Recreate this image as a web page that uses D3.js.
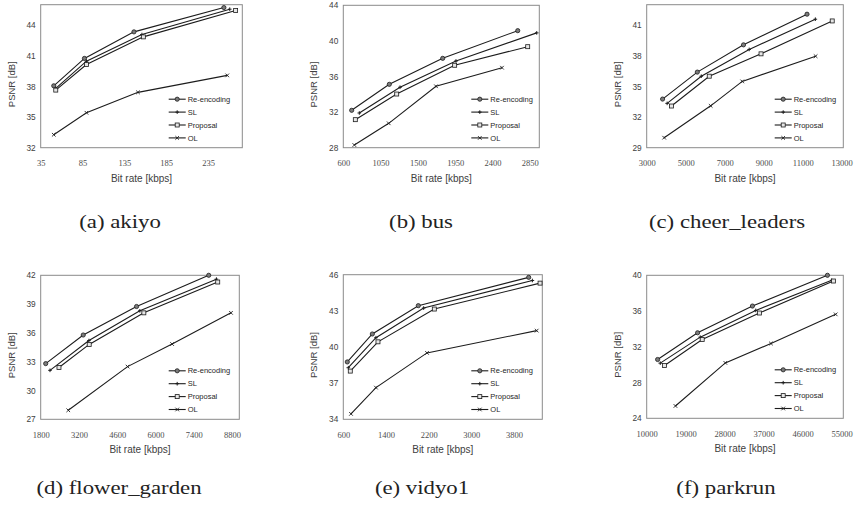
<!DOCTYPE html>
<html>
<head>
<meta charset="utf-8">
<script src="https://cdn.jsdelivr.net/npm/d3@7"></script>
<style>
  body { margin: 0; background: #fff; }
  svg { display: block; }
</style>
</head>
<body>
<svg id="fig" width="859" height="510"></svg>
<script>
// series shared by every panel
var seriesNames = ["Re-encoding", "SL", "Proposal", "OL"];
var markerTypes = ["circle", "plus", "square", "x"];

// (a) akiyo
var akiyoRate = [[50.6, 87.3, 146.5, 254], [53, 89.7, 156, 261], [53, 89.7, 157.7, 268], [50.6, 89.7, 151.3, 258]];
var akiyoPsnr = [[38.06, 40.74, 43.34, 45.72], [37.8, 40.47, 43.08, 45.56], [37.64, 40.15, 42.85, 45.43], [33.27, 35.42, 37.42, 39.08]];
var akiyoXTicks = [35, 85, 135, 185, 235];
var akiyoYTicks = [32, 35, 38, 41, 44];

// (b) bus
var busRate = [[701, 1155, 1799, 2704], [793, 1284, 1959, 2933], [745, 1244, 1943, 2824], [733, 1148, 1718, 2514]];
var busPsnr = [[32.2, 35.12, 38.04, 41.15], [31.9, 34.79, 37.74, 40.9], [31.15, 34.03, 37.26, 39.35], [28.3, 30.74, 34.9, 36.99]];
var busXTicks = [600, 1050, 1500, 1950, 2400, 2850];
var busYTicks = [28, 32, 36, 40, 44];

// (c) cheer_leaders
var cheerRate = [[3814, 5595, 7964, 11220], [4048, 5798, 8254, 11647], [4270, 6207, 8862, 12512], [3895, 6280, 7898, 11661]];
var cheerPsnr = [[33.76, 36.4, 39.07, 42.07], [33.34, 36.0, 38.62, 41.58], [33.08, 36.0, 38.19, 41.41], [29.98, 33.1, 35.49, 37.96]];
var cheerXTicks = [3000, 5000, 7000, 9000, 11000, 13000];
var cheerYTicks = [29, 32, 35, 38, 41];

// (d) flower_garden
var flowerRate = [[1983, 3357, 5309, 7951], [2140, 3565, 5429, 8233], [2469, 3576, 5576, 8280], [2809, 4980, 6610, 8766]];
var flowerPsnr = [[32.8, 35.78, 38.75, 42.0], [32.1, 35.2, 38.3, 41.6], [32.4, 34.8, 38.09, 41.3], [27.94, 32.49, 34.84, 38.09]];
var flowerXTicks = [1800, 3200, 4600, 6000, 7400, 8800];
var flowerYTicks = [27, 30, 33, 36, 39, 42];

// (e) vidyo1
var vidyoRate = [[675, 1144, 2006, 4075], [694, 1212, 2106, 4144], [731, 1250, 2306, 4288], [744, 1212, 2169, 4225]];
var vidyoPsnr = [[38.76, 41.08, 43.43, 45.78], [38.28, 40.77, 43.23, 45.52], [38.0, 40.43, 43.15, 45.3], [34.45, 36.63, 39.51, 41.36]];
var vidyoXTicks = [600, 1400, 2200, 3000, 3800];
var vidyoYTicks = [34, 37, 40, 43, 46];

// (f) parkrun
var parkRate = [[12517, 21746, 34406, 51720], [13127, 22356, 35169, 52711], [14119, 22813, 36008, 53093], [16636, 28152, 38677, 53627]];
var parkPsnr = [[30.58, 33.57, 36.56, 40.0], [30.17, 33.08, 36.07, 39.44], [29.91, 32.82, 35.78, 39.36], [25.38, 30.2, 32.37, 35.63]];
var parkXTicks = [10000, 19000, 28000, 37000, 46000, 55000];
var parkYTicks = [24, 28, 32, 36, 40];

// layout of each small chart (plot box in page pixels)
var panels = [
  {caption: "(a) akiyo", rate: akiyoRate, psnr: akiyoPsnr, xt: akiyoXTicks, yt: akiyoYTicks,
   xMax: 276, yDom: [32, 46], box: {l: 40.7, t: 4.7, r: 242.3, b: 147.7}, capX: 120, capY: 228},
  {caption: "(b) bus", rate: busRate, psnr: busPsnr, xt: busXTicks, yt: busYTicks,
   xMax: 2964, yDom: [28, 44], box: {l: 343.3, t: 5.3, r: 539.3, b: 147.7}, capX: 421, capY: 228},
  {caption: "(c) cheer_leaders", rate: cheerRate, psnr: cheerPsnr, xt: cheerXTicks, yt: cheerYTicks,
   xMax: 13080, yDom: [29, 43], box: {l: 646.7, t: 4.7, r: 843.3, b: 147.7}, capX: 727, capY: 228},
  {caption: "(d) flower_garden", rate: flowerRate, psnr: flowerPsnr, xt: flowerXTicks, yt: flowerYTicks,
   xMax: 9070, yDom: [27, 42], box: {l: 40.7, t: 275.3, r: 239.3, b: 419.3}, capX: 119, capY: 494},
  {caption: "(e) vidyo1", rate: vidyoRate, psnr: vidyoPsnr, xt: vidyoXTicks, yt: vidyoYTicks,
   xMax: 4330, yDom: [34, 46], box: {l: 343.3, t: 274.7, r: 542.3, b: 419.3}, capX: 422, capY: 494},
  {caption: "(f) parkrun", rate: parkRate, psnr: parkPsnr, xt: parkXTicks, yt: parkYTicks,
   xMax: 55380, yDom: [24, 40], box: {l: 646.7, t: 275.3, r: 843.3, b: 418.3}, capX: 726, capY: 494}
];

var svg = d3.select("#fig");
var ink = "#1c1c1c";

// small Excel-like markers
function drawMarker(g, type, x, y) {
  if (type === "circle") {
    g.append("circle").attr("cx", x).attr("cy", y).attr("r", 2.1)
      .attr("fill", "#7a7a7a").attr("stroke", ink).attr("stroke-width", 0.8);
  } else if (type === "square") {
    g.append("rect").attr("x", x - 2).attr("y", y - 2).attr("width", 4).attr("height", 4)
      .attr("fill", "#e6e6e6").attr("stroke", ink).attr("stroke-width", 0.8);
  } else if (type === "plus") {
    g.append("path").attr("d", "M" + (x - 1.8) + "," + y + "H" + (x + 1.8) + "M" + x + "," + (y - 1.8) + "V" + (y + 1.8))
      .attr("stroke", ink).attr("stroke-width", 1);
  } else {
    g.append("path").attr("d", "M" + (x - 1.8) + "," + (y - 1.8) + "L" + (x + 1.8) + "," + (y + 1.8) +
      "M" + (x - 1.8) + "," + (y + 1.8) + "L" + (x + 1.8) + "," + (y - 1.8))
      .attr("stroke", ink).attr("stroke-width", 0.9);
  }
}

panels.forEach(function(p) {
  var b = p.box;
  var x = d3.scaleLinear().domain([p.xt[0], p.xMax]).range([b.l, b.r]);
  var y = d3.scaleLinear().domain(p.yDom).range([b.b, b.t]);
  var g = svg.append("g");

  // x axis (serif labels, no tick marks)
  g.append("g")
    .attr("transform", "translate(0," + b.b + ")")
    .call(d3.axisBottom(x).tickValues(p.xt).tickSize(0).tickPadding(12.5).tickFormat(d3.format("d")))
    .call(function(a) { a.select(".domain").remove(); })
    .selectAll("text")
    .attr("font-family", "'Liberation Serif', serif").attr("font-size", 8.5).attr("fill", "#4d4d4d");

  // y axis
  g.append("g")
    .attr("transform", "translate(" + b.l + ",0)")
    .call(d3.axisLeft(y).tickValues(p.yt).tickSize(0).tickPadding(5).tickFormat(d3.format("d")))
    .call(function(a) { a.select(".domain").remove(); })
    .selectAll("text")
    .attr("font-family", "'Liberation Sans', sans-serif").attr("font-size", 8.3).attr("fill", "#404040");

  // plot frame
  g.append("rect")
    .attr("x", b.l).attr("y", b.t).attr("width", b.r - b.l).attr("height", b.b - b.t)
    .attr("fill", "none").attr("stroke", "#8a8a8a").attr("stroke-width", 1);

  // axis titles
  g.append("text")
    .attr("x", (b.l + b.r) / 2).attr("y", b.b + 34)
    .attr("text-anchor", "middle")
    .attr("font-family", "'Liberation Sans', sans-serif").attr("font-size", 10).attr("fill", "#404040")
    .text("Bit rate [kbps]");
  g.append("text")
    .attr("transform", "translate(" + (b.l - 26) + "," + ((b.t + b.b) / 2 + 8) + ") rotate(-90)")
    .attr("text-anchor", "middle")
    .attr("font-family", "'Liberation Sans', sans-serif").attr("font-size", 9.5).attr("fill", "#404040")
    .text("PSNR [dB]");

  // series lines + markers
  var line = d3.line().x(function(d) { return x(d[0]); }).y(function(d) { return y(d[1]); });
  seriesNames.forEach(function(name, i) {
    var pts = p.rate[i].map(function(r, k) { return [r, p.psnr[i][k]]; });
    g.append("path").datum(pts).attr("d", line)
      .attr("fill", "none").attr("stroke", ink).attr("stroke-width", 1.1);
    pts.forEach(function(d) { drawMarker(g, markerTypes[i], x(d[0]), y(d[1])); });
  });

  // legend
  seriesNames.forEach(function(name, i) {
    var lx = b.l + 128, ly = b.b - 48.5 + 12.9 * i;
    g.append("line").attr("x1", lx).attr("x2", lx + 17).attr("y1", ly).attr("y2", ly)
      .attr("stroke", ink).attr("stroke-width", 1.1);
    drawMarker(g, markerTypes[i], lx + 8.5, ly);
    g.append("text").attr("x", lx + 19).attr("y", ly).attr("dy", "0.35em")
      .attr("font-family", "'Liberation Sans', sans-serif").attr("font-size", 7.5).attr("fill", "#262626")
      .text(name);
  });

  // sub caption
  g.append("text")
    .attr("transform", "translate(" + p.capX + "," + p.capY + ") scale(1.2,1)")
    .attr("text-anchor", "middle")
    .attr("font-family", "'Liberation Serif', serif").attr("font-size", 19).attr("fill", "#222")
    .text(p.caption);
});
</script>
</body>
</html>
